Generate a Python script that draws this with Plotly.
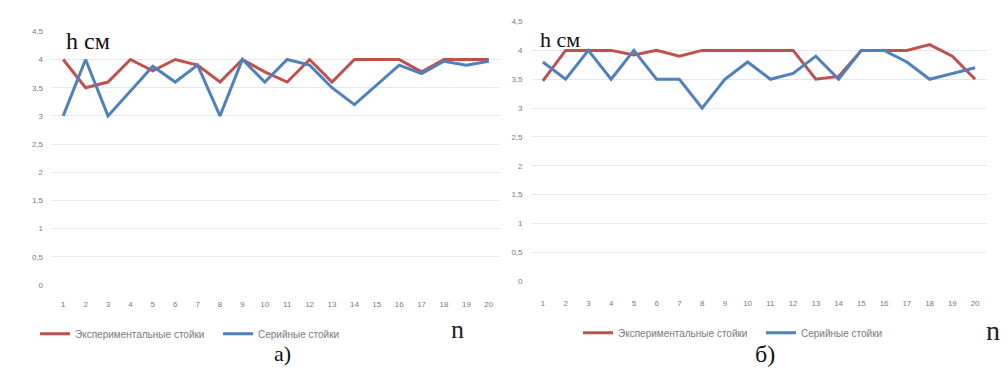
import plotly.graph_objects as go

W, H = 1008, 372

n = list(range(1, 21))
n_labels_a = [str(i) for i in n]
n_labels_b = [str(i) for i in n]

exp_a = [4.0, 3.5, 3.6, 4.0, 3.8, 4.0, 3.9, 3.6, 4.0, 3.78, 3.6, 4.0, 3.6, 4.0, 4.0, 4.0, 3.78, 4.0, 4.0, 4.0]
ser_a = [3.0, 4.0, 3.0, 3.45, 3.88, 3.6, 3.9, 3.0, 4.0, 3.6, 4.0, 3.9, 3.5, 3.2, 3.55, 3.9, 3.75, 3.97, 3.9, 3.97]

exp_b = [3.47, 4.0, 4.0, 4.0, 3.92, 4.0, 3.9, 4.0, 4.0, 4.0, 4.0, 4.0, 3.5, 3.55, 4.0, 4.0, 4.0, 4.1, 3.9, 3.5]
ser_b = [3.8, 3.5, 4.0, 3.5, 4.0, 3.5, 3.5, 3.0, 3.5, 3.8, 3.5, 3.6, 3.9, 3.5, 4.0, 4.0, 3.8, 3.5, 3.6, 3.7]

y_ticks = [0, 0.5, 1, 1.5, 2, 2.5, 3, 3.5, 4, 4.5]
y_tick_labels = ["0", "0,5", "1", "1,5", "2", "2,5", "3", "3,5", "4", "4,5"]

name_exp = "Экспериментальные стойки"
name_ser = "Серийные стойки"

RED = "#c0504d"
BLUE = "#4f81bd"
GRID = "#e3e7ee"
TICK = "#7a7a7a"

fig = go.Figure()

fig.add_trace(go.Scatter(x=n, y=exp_a, mode="lines", name=name_exp,
                         line=dict(color=RED, width=3), xaxis="x", yaxis="y",
                         legend="legend"))
fig.add_trace(go.Scatter(x=n, y=ser_a, mode="lines", name=name_ser,
                         line=dict(color=BLUE, width=3), xaxis="x", yaxis="y",
                         legend="legend"))
fig.add_trace(go.Scatter(x=n, y=exp_b, mode="lines", name=name_exp,
                         line=dict(color=RED, width=3), xaxis="x2", yaxis="y2",
                         legend="legend2"))
fig.add_trace(go.Scatter(x=n, y=ser_b, mode="lines", name=name_ser,
                         line=dict(color=BLUE, width=3), xaxis="x2", yaxis="y2",
                         legend="legend2"))

def xaxis(domain, labels, standoff):
    return dict(domain=domain, range=[0.5, 20.5], tickmode="array", tickvals=n,
                ticktext=labels, showgrid=False, zeroline=False, showline=False,
                ticks="", ticklabelstandoff=standoff,
                tickfont=dict(family="Liberation Sans", size=8, color=TICK))

def yaxis(domain, anchor):
    return dict(domain=domain, range=[0, 4.5], tickmode="array", tickvals=y_ticks,
                ticktext=y_tick_labels, showgrid=True, gridcolor=GRID, gridwidth=1,
                zeroline=False, showline=False, ticks="", anchor=anchor,
                ticklabelstandoff=8,
                tickfont=dict(family="Liberation Sans", size=8, color=TICK))

legend_common = dict(orientation="h", xanchor="left", yanchor="middle",
                     bgcolor="rgba(0,0,0,0)",
                     font=dict(family="Liberation Sans", size=10, color=TICK),
                     itemwidth=30, tracegroupgap=0,
                     entrywidth=138, entrywidthmode="pixels")

fig.update_layout(
    width=W, height=H,
    margin=dict(l=0, r=0, t=0, b=0),
    paper_bgcolor="white", plot_bgcolor="white",
    xaxis=xaxis([52 / W, 500 / W], n_labels_a, 13) | dict(anchor="y"),
    yaxis=yaxis([1 - 288 / H, 1 - 28 / H], "x"),
    xaxis2=xaxis([531.5 / W, 986.5 / W], n_labels_b, 16) | dict(anchor="y2"),
    yaxis2=yaxis([1 - 284 / H, 1 - 18 / H], "x2"),
    legend=legend_common | dict(x=35 / W, y=1 - 338 / H),
    legend2=legend_common | dict(x=578 / W, y=1 - 337 / H),
    showlegend=True,
)

serif = "Liberation Serif"
ann = [
    dict(text="h см", x=64 / W, y=1 - 38 / H, xanchor="left", yanchor="middle",
         font=dict(family=serif, size=24, color="#111111")),
    dict(text="h см", x=538 / W, y=1 - 36 / H, xanchor="left", yanchor="middle",
         font=dict(family=serif, size=22, color="#111111")),
    dict(text="n", x=457 / W, y=1 - 334 / H, xanchor="center", yanchor="middle",
         font=dict(family=serif, size=26, color="#222222")),
    dict(text="n", x=993 / W, y=1 - 335 / H, xanchor="center", yanchor="middle",
         font=dict(family=serif, size=28, color="#222222")),
    dict(text="а)", x=282 / W, y=1 - 358 / H, xanchor="center", yanchor="middle",
         font=dict(family=serif, size=22, color="#111111")),
    dict(text="б)", x=765 / W, y=1 - 359 / H, xanchor="center", yanchor="middle",
         font=dict(family=serif, size=24, color="#111111")),
]
for a in ann:
    a.update(xref="paper", yref="paper", showarrow=False)
fig.update_layout(annotations=ann)

fig.write_html("out.html")
